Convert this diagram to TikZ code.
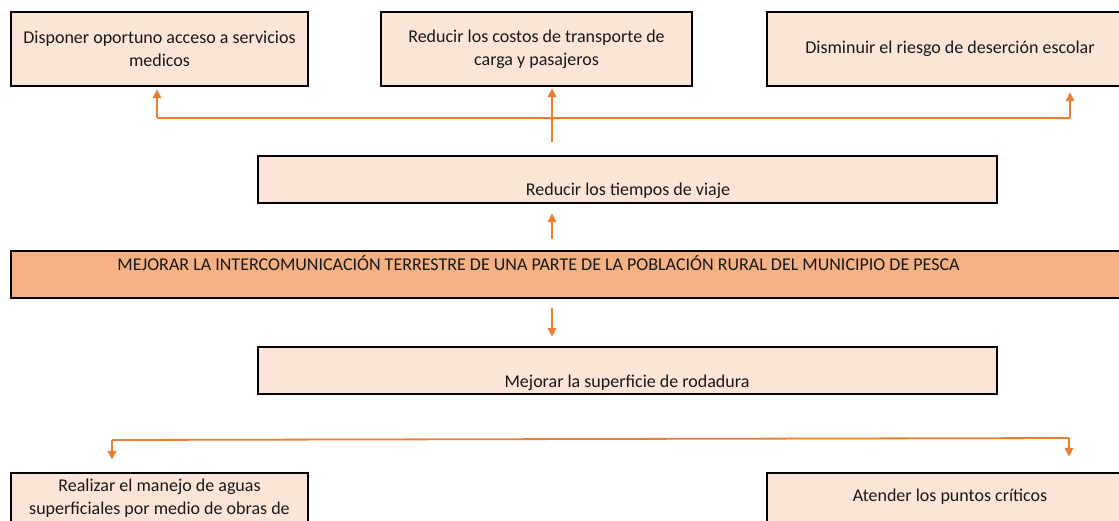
\documentclass[tikz,border=0pt]{standalone}
\usepackage{fontspec}
\setmainfont{Carlito}
\usetikzlibrary{arrows.meta}
\definecolor{boxfill}{HTML}{FCE4D6}
\definecolor{bandfill}{HTML}{F4B183}
\definecolor{linkorange}{HTML}{ED7D31}
\tikzset{
	box/.style={draw=black, line width=2.4pt, fill=boxfill, inner sep=0pt, font=\fontsize{18}{23}\selectfont, align=center, text=black!90},
	band/.style={box, fill=bandfill},
	txt/.style={font=\fontsize{18}{23}\selectfont, align=center, inner sep=0pt, text=black!90},
	link/.style={draw=linkorange, line width=1.8pt},
	linkarrow/.style={link, -{Triangle[width=8.5pt,length=9pt]}}
}
\begin{document}
\begin{tikzpicture}[x=1pt, y=-1pt]
\useasboundingbox (0,0) rectangle (1119,520);
\clip (0,0) rectangle (1119,520);

% fines
\node[box, minimum width=297pt, minimum height=74pt] (medicos) at (159.5,49) {Disponer oportuno acceso a servicios\\medicos};
\node[box, minimum width=311pt, minimum height=74pt] (costos) at (536.5,49) {Reducir los costos de transporte de\\carga y pasajeros};
\node[box, minimum width=366pt, minimum height=74pt] (escolar) at (950,49) {Disminuir el riesgo de deserción escolar};

\node[box, minimum width=739pt, minimum height=47pt] (tiempos) at (627.5,179.5) {};
\node[txt] (ttiempos) at (628,191) {Reducir los tiempos de viaje};

% objetivo central
\node[band, minimum width=1130pt, minimum height=47pt] (objetivo) at (576,274.5) {};
\node[txt] (tobjetivo) at (538.5,263) {MEJORAR LA INTERCOMUNICACIÓN TERRESTRE DE UNA PARTE DE LA POBLACIÓN RURAL DEL MUNICIPIO DE PESCA};

% medios
\node[box, minimum width=739pt, minimum height=47pt] (rodadura) at (627.5,370.5) {};
\node[txt] (trodadura) at (627,383) {Mejorar la superficie de rodadura};

\node[box, minimum width=297pt, minimum height=90pt] (aguas) at (159.5,518) {};
\node[txt] (taguas) at (159.5,498.5) {Realizar el manejo de aguas\\superficiales por medio de obras de};
\node[box, minimum width=366pt, minimum height=90pt] (criticos) at (950,518) {};
\node[txt] (tcriticos) at (950,497) {Atender los puntos críticos};

% conectores
\coordinate (eje) at (552,0);
\coordinate (arribaL) at (157,118);
\coordinate (arribaR) at (1070,118);
\coordinate (abajoL) at (112,440);
\coordinate (abajoR) at (1069,438);

\draw[link] (arribaL) -- (arribaR);
\draw[linkarrow, shorten >=2pt] (arribaL) -- (arribaL |- medicos.south);
\draw[linkarrow, shorten >=5pt] (arribaR) -- (arribaR |- escolar.south);
\draw[linkarrow, shorten >=1pt] ([yshift=13pt]eje |- tiempos.north) -- (eje |- costos.south);

\draw[linkarrow, shorten >=9pt, shorten <=11pt] (eje |- objetivo.north) -- (eje |- tiempos.south);
\draw[linkarrow, shorten >=9pt, shorten <=9pt] (eje |- objetivo.south) -- (eje |- rodadura.north);

\draw[link] (abajoL) -- (abajoR);
\draw[linkarrow, shorten >=12pt] (abajoL) -- (abajoL |- aguas.north);
\draw[linkarrow, shorten >=15pt] (abajoR) -- (abajoR |- criticos.north);

\end{tikzpicture}
\end{document}
